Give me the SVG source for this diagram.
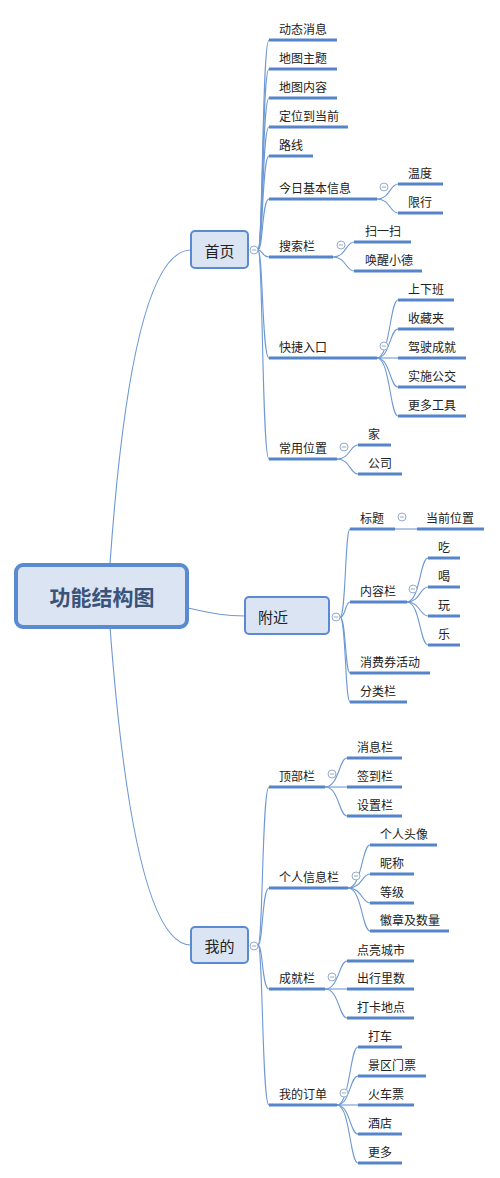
<svg xmlns="http://www.w3.org/2000/svg" width="500" height="1178" viewBox="0 0 500 1178">
<style>
text{font-family:"Microsoft YaHei","Noto Sans CJK SC","Noto Sans",sans-serif;fill:#222;font-size:12px;dominant-baseline:central}
.ul{stroke:#5585c8;stroke-width:3;fill:none}
.cn{stroke:#6d98d4;stroke-width:1.1;fill:none}
.node{fill:#dae4f2;stroke:#5a8ad0;stroke-width:2}
.big{font-size:15px}
.tc{fill:#fff;stroke:#95acca;stroke-width:1}
.tm{stroke:#95acca;stroke-width:1}
</style>
<defs>
<g id="tog"><circle class="tc" cx="0" cy="0" r="4"/><line class="tm" x1="-2.2" y1="0" x2="2.2" y2="0"/></g>
</defs>
<rect width="500" height="1178" fill="#fff"/>
<g id="connectors">
<path class="cn" d="M110 564 Q132 250 191 250"/>
<path class="cn" d="M110 627 Q134 945 191 945"/>
<path class="cn" d="M188 608 C215 614 225 616 245 616"/>
<!-- 首页 -->
<path class="cn" d="M258 250 C263 250 262 40 269 40"/>
<path class="cn" d="M258 250 C263 250 262 69 269 69"/>
<path class="cn" d="M258 250 C263 250 262 98 269 98"/>
<path class="cn" d="M258 250 C263 250 262 127 269 127"/>
<path class="cn" d="M258 250 C263 250 262 156 269 156"/>
<path class="cn" d="M258 250 C263 250 262 199 269 199"/>
<path class="cn" d="M258 250 C263 250 262 257 269 257"/>
<path class="cn" d="M258 250 C263 250 262 358 269 358"/>
<path class="cn" d="M258 250 C263 250 262 459 269 459"/>
<path class="cn" d="M377 199 C390 199 390 184 398 184"/>
<path class="cn" d="M377 199 C390 199 390 213 398 213"/>
<path class="cn" d="M333 257 C346 257 346 242 354 242"/>
<path class="cn" d="M333 257 C346 257 346 271 354 271"/>
<path class="cn" d="M377 358 C390 358 390 300 398 300"/>
<path class="cn" d="M377 358 C390 358 390 329 398 329"/>
<path class="cn" d="M377 358 L398 358"/>
<path class="cn" d="M377 358 C390 358 390 387 398 387"/>
<path class="cn" d="M377 358 C390 358 390 416 398 416"/>
<path class="cn" d="M337 459 C350 459 350 445 358 445"/>
<path class="cn" d="M337 459 C350 459 350 474 358 474"/>
<!-- 附近 -->
<path class="cn" d="M340 617 C346 617 345 529 350 529"/>
<path class="cn" d="M340 617 C346 617 345 602 350 602"/>
<path class="cn" d="M340 617 C346 617 345 673 350 673"/>
<path class="cn" d="M340 617 C346 617 345 702 350 702"/>
<path class="cn" d="M395 529 L417 529"/>
<path class="cn" d="M407 602 C420 602 420 558 428 558"/>
<path class="cn" d="M407 602 C420 602 420 587 428 587"/>
<path class="cn" d="M407 602 C420 602 420 616 428 616"/>
<path class="cn" d="M407 602 C420 602 420 645 428 645"/>
<!-- 我的 -->
<path class="cn" d="M258 945 C263 945 262 787 269 787"/>
<path class="cn" d="M258 945 C263 945 262 888 269 888"/>
<path class="cn" d="M258 945 C263 945 262 989 269 989"/>
<path class="cn" d="M258 945 C263 945 262 1105 269 1105"/>
<path class="cn" d="M325 787 C339 787 339 758 347 758"/>
<path class="cn" d="M325 787 L347 787"/>
<path class="cn" d="M325 787 C339 787 339 816 347 816"/>
<path class="cn" d="M348 888 C362 888 362 845 370 845"/>
<path class="cn" d="M348 888 C362 888 362 874 370 874"/>
<path class="cn" d="M348 888 C362 888 362 903 370 903"/>
<path class="cn" d="M348 888 C362 888 362 931 370 931"/>
<path class="cn" d="M325 989 C339 989 339 961 347 961"/>
<path class="cn" d="M325 989 L347 989"/>
<path class="cn" d="M325 989 C339 989 339 1018 347 1018"/>
<path class="cn" d="M337 1105 C350 1105 350 1047 358 1047"/>
<path class="cn" d="M337 1105 C350 1105 350 1076 358 1076"/>
<path class="cn" d="M337 1105 L358 1105"/>
<path class="cn" d="M337 1105 C350 1105 350 1134 358 1134"/>
<path class="cn" d="M337 1105 C350 1105 350 1163 358 1163"/>
</g>
<g id="root">
<rect x="16" y="565" width="171" height="62" rx="7" fill="#dae4f2" stroke="#5a8ad0" stroke-width="4"/>
<text x="102" y="596" text-anchor="middle" style="font-size:21px;font-weight:bold;fill:#3b5379">功能结构图</text>
</g>
<g id="shouye">
<rect class="node" x="191" y="231" width="57" height="37" rx="4"/>
<text class="big" x="219.5" y="250" text-anchor="middle">首页</text>
<use href="#tog" x="254" y="250"/>
</g>
<g id="fujin">
<rect class="node" x="245" y="597" width="84" height="37" rx="4"/>
<text class="big" x="258" y="616">附近</text>
<use href="#tog" x="336" y="617"/>
</g>
<g id="wode">
<rect class="node" x="191" y="927" width="57" height="36" rx="4"/>
<text class="big" x="219.5" y="945" text-anchor="middle">我的</text>
<use href="#tog" x="254" y="946"/>
</g>
<!-- 首页 children -->
<g id="dtxx"><path class="ul" d="M269 40H337"/><text x="279" y="28">动态消息</text></g>
<g id="dtzt"><path class="ul" d="M269 69H337"/><text x="279" y="57">地图主题</text></g>
<g id="dtnr"><path class="ul" d="M269 98H337"/><text x="279" y="86">地图内容</text></g>
<g id="dwdq"><path class="ul" d="M269 127H348"/><text x="279" y="115">定位到当前</text></g>
<g id="lx"><path class="ul" d="M269 156H313"/><text x="279" y="144">路线</text></g>
<g id="jrxx"><path class="ul" d="M269 199H377"/><text x="279" y="187">今日基本信息</text><use href="#tog" x="384" y="187"/></g>
<g id="wd"><path class="ul" d="M398 184H443"/><text x="408" y="172">温度</text></g>
<g id="xx"><path class="ul" d="M398 213H443"/><text x="408" y="201">限行</text></g>
<g id="ssl"><path class="ul" d="M269 257H333"/><text x="279" y="245">搜索栏</text><use href="#tog" x="341" y="245"/></g>
<g id="sys"><path class="ul" d="M354 242H411"/><text x="365" y="230">扫一扫</text></g>
<g id="hxxd"><path class="ul" d="M354 271H422"/><text x="365" y="259">唤醒小德</text></g>
<g id="kjrk"><path class="ul" d="M269 358H377"/><text x="279" y="346">快捷入口</text><use href="#tog" x="384" y="346"/></g>
<g id="sxb"><path class="ul" d="M398 300H454"/><text x="408" y="288">上下班</text></g>
<g id="scj"><path class="ul" d="M398 329H454"/><text x="408" y="317">收藏夹</text></g>
<g id="jscj"><path class="ul" d="M398 358H466"/><text x="408" y="346">驾驶成就</text></g>
<g id="ssgj"><path class="ul" d="M398 387H466"/><text x="408" y="375">实施公交</text></g>
<g id="dggj"><path class="ul" d="M398 416H466"/><text x="408" y="404">更多工具</text></g>
<g id="cywz"><path class="ul" d="M269 459H337"/><text x="279" y="447">常用位置</text><use href="#tog" x="344" y="447"/></g>
<g id="jia"><path class="ul" d="M358 445H391"/><text x="368" y="433">家</text></g>
<g id="gs"><path class="ul" d="M358 474H402"/><text x="368" y="462">公司</text></g>
<!-- 附近 children -->
<g id="bt"><path class="ul" d="M350 529H395"/><text x="360" y="517">标题</text><use href="#tog" x="402" y="517"/></g>
<g id="dqwz"><path class="ul" d="M417 529H484"/><text x="426" y="517">当前位置</text></g>
<g id="nrl"><path class="ul" d="M350 602H407"/><text x="360" y="590">内容栏</text><use href="#tog" x="413" y="589"/></g>
<g id="chi"><path class="ul" d="M428 558H460"/><text x="438" y="546">吃</text></g>
<g id="he"><path class="ul" d="M428 587H460"/><text x="438" y="575">喝</text></g>
<g id="wan"><path class="ul" d="M428 616H460"/><text x="438" y="604">玩</text></g>
<g id="le"><path class="ul" d="M428 645H460"/><text x="438" y="633">乐</text></g>
<g id="xfq"><path class="ul" d="M350 673H430"/><text x="360" y="661">消费券活动</text></g>
<g id="fll"><path class="ul" d="M350 702H407"/><text x="360" y="690">分类栏</text></g>
<!-- 我的 children -->
<g id="dbl"><path class="ul" d="M269 787H325"/><text x="279" y="775">顶部栏</text><use href="#tog" x="332" y="774"/></g>
<g id="xxl"><path class="ul" d="M347 758H402"/><text x="357" y="746">消息栏</text></g>
<g id="qdl"><path class="ul" d="M347 787H402"/><text x="357" y="775">签到栏</text></g>
<g id="szl"><path class="ul" d="M347 816H402"/><text x="357" y="804">设置栏</text></g>
<g id="grxxl"><path class="ul" d="M269 888H348"/><text x="279" y="876">个人信息栏</text><use href="#tog" x="356" y="876"/></g>
<g id="grtx"><path class="ul" d="M370 845H437"/><text x="380" y="833">个人头像</text></g>
<g id="nc"><path class="ul" d="M370 874H414"/><text x="380" y="862">昵称</text></g>
<g id="dj"><path class="ul" d="M370 903H414"/><text x="380" y="891">等级</text></g>
<g id="hz"><path class="ul" d="M370 931H449"/><text x="380" y="919">徽章及数量</text></g>
<g id="cjl"><path class="ul" d="M269 989H325"/><text x="279" y="977">成就栏</text><use href="#tog" x="332" y="977"/></g>
<g id="dlcs"><path class="ul" d="M347 961H414"/><text x="357" y="949">点亮城市</text></g>
<g id="cxls"><path class="ul" d="M347 989H414"/><text x="357" y="977">出行里数</text></g>
<g id="dkdd"><path class="ul" d="M347 1018H414"/><text x="357" y="1006">打卡地点</text></g>
<g id="wddd"><path class="ul" d="M269 1105H337"/><text x="279" y="1093">我的订单</text><use href="#tog" x="344" y="1093"/></g>
<g id="dc"><path class="ul" d="M358 1047H402"/><text x="368" y="1035">打车</text></g>
<g id="jqmp"><path class="ul" d="M358 1076H426"/><text x="368" y="1064">景区门票</text></g>
<g id="hcp"><path class="ul" d="M358 1105H414"/><text x="368" y="1093">火车票</text></g>
<g id="jd"><path class="ul" d="M358 1134H402"/><text x="368" y="1122">酒店</text></g>
<g id="gd"><path class="ul" d="M358 1163H402"/><text x="368" y="1151">更多</text></g>
</svg>
